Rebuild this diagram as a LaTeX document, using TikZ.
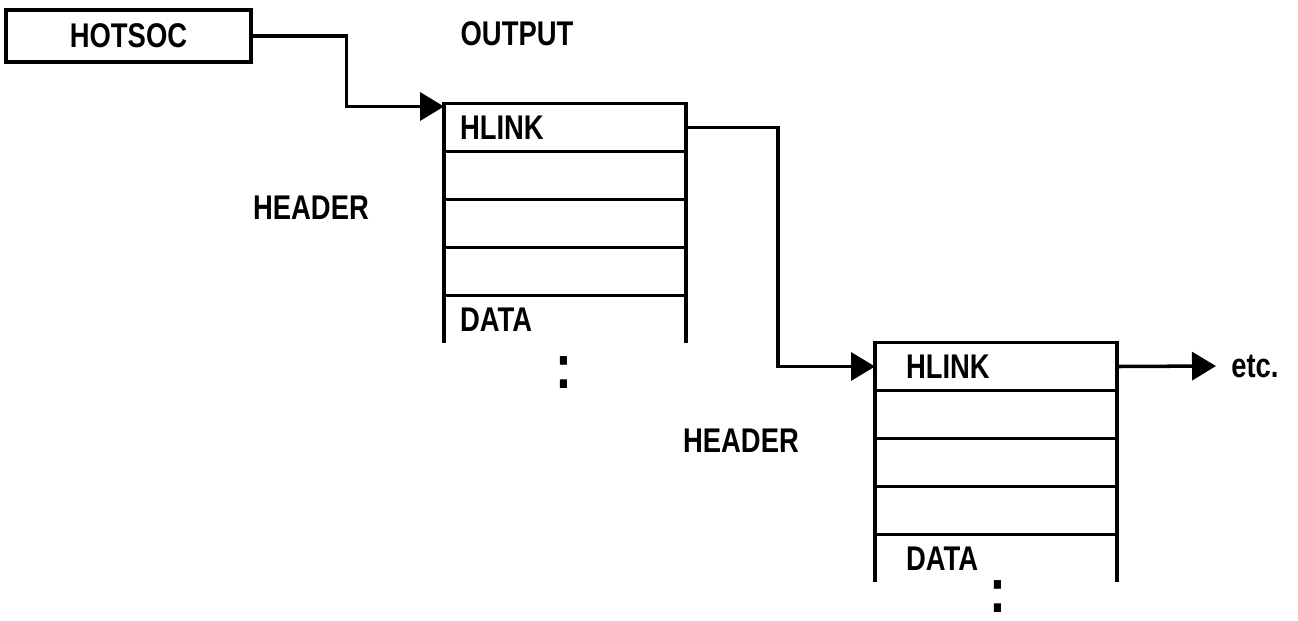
\documentclass[tikz,border=0pt]{standalone}
\usepackage{fontspec}
\setmainfont{Liberation Sans}[FakeStretch=0.8]
\usetikzlibrary{arrows.meta,positioning}
\tikzset{
  lbl/.style={font=\fontsize{19.5}{21}\selectfont\bfseries,inner sep=0pt},
  box/.style={draw,line width=2pt,font=\fontsize{19.5}{21}\selectfont\bfseries},
  hotbox/.style={box,minimum width=4.9cm,minimum height=1.04cm},
  row/.style={box,outer sep=0pt,minimum height=0.96cm,inner ysep=0pt,align=left},
  rowA/.style={row,inner xsep=0.32cm,text width=4.2cm},
  rowB/.style={row,inner xsep=0.62cm,text width=3.6cm},
  wire/.style={line width=2pt},
  link/.style={wire,-{Triangle[length=0.48cm,width=0.56cm]}},
  dots/.style={font=\fontsize{36}{36}\selectfont\bfseries,inner sep=0pt}
}
\begin{document}
\begin{tikzpicture}[x=0.02cm,y=-0.02cm]
  \useasboundingbox (0,0) rectangle (1298,620);

  % pointer cell
  \node[hotbox] (hotsoc) at (128.5,36) {HOTSOC};
  \node[lbl] (output) at (517,34) {OUTPUT};

  % first record
  \node[rowA] (r1a) at (565,127.5) {HLINK};
  \node[rowA,below=0pt of r1a] (r1b) {};
  \node[rowA,below=0pt of r1b] (r1c) {};
  \node[rowA,below=0pt of r1c] (r1d) {};
  \node[rowA,draw=none,below=0pt of r1d] (r1e) {DATA};
  \draw[wire] (r1e.north west) -- (r1e.south west)
              (r1e.north east) -- (r1e.south east);
  \node[dots] (col1) at (564,373) {:};
  \node[lbl] (head1) at (311,208) {HEADER};

  % second record
  \node[rowB] (r2a) at (996,366.5) {HLINK};
  \node[rowB,below=0pt of r2a] (r2b) {};
  \node[rowB,below=0pt of r2b] (r2c) {};
  \node[rowB,below=0pt of r2c] (r2d) {};
  \node[rowB,draw=none,below=0pt of r2d] (r2e) {DATA};
  \draw[wire] (r2e.north west) -- (r2e.south west)
              (r2e.north east) -- (r2e.south east);
  \node[dots] (col2) at (998,597) {:};
  \node[lbl] (head2) at (741,441) {HEADER};
  \node[lbl,anchor=west] (etc) at (1231,366) {etc.};

  % links
  \draw[link] (hotsoc.east) -- ++(94,0) |- ([yshift=-0.06cm]r1a.north west);
  \draw[link] (r1a.east) -- ++(92,0) |- (r2a.west);
  \draw[link] (r2a.east) -- ([xshift=-0.3cm]etc.west);
\end{tikzpicture}
\end{document}
